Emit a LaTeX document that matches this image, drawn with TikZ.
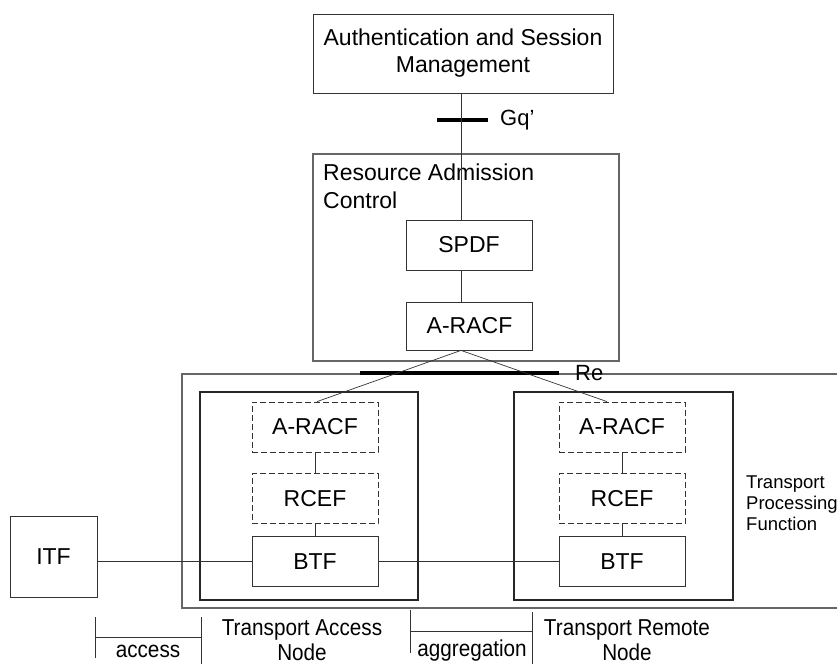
\documentclass[tikz,border=0pt]{standalone}
\usepackage{fontspec}
\setmainfont{Liberation Sans}
\newfontfamily\narrowfont{Liberation Sans}[FakeStretch=0.9]
\usetikzlibrary{positioning}

\begin{document}
\begin{tikzpicture}[x=1pt, y=-1pt,
    funcbox/.style={draw=black!80, line width=0.8pt, inner sep=0pt, minimum width=126pt, minimum height=50pt, align=center, font=\fontsize{23}{27}\selectfont},
    dashbox/.style={funcbox, dash pattern=on 6pt off 3pt},
    holder/.style={draw=black!85, line width=1.1pt, inner sep=0pt},
    iface/.style={line width=4.2pt, black},
    link/.style={draw=black!80, line width=0.7pt},
    tag/.style={inner sep=0pt, anchor=west, font=\fontsize{22}{26}\selectfont},
    dimtext/.style={inner sep=0pt, align=center, font=\narrowfont\fontsize{23}{25}\selectfont}
    ]
        \useasboundingbox (0,0) rectangle (837,664);

        %Nodes
        \node[funcbox, minimum width=300pt, minimum height=79pt]
            (asm)   at (463,53.5)   {Authentication and Session\\Management};
        \node[holder, draw=black!60, minimum width=306pt, minimum height=207pt]
            (rac)   at (466,257.5)  {};
        \node[inner sep=0pt, anchor=north west, align=left, font=\fontsize{23}{28}\selectfont]
            (ractext) at (323,164)  {Resource Admission\\Control};
        \node[funcbox]
            (spdf)  at (469,245)    {SPDF};
        \node[funcbox, minimum height=48pt]
            (aracf) at (469.5,326)  {A-RACF};

        \node[holder, minimum width=218pt, minimum height=208pt]
            (tan)   at (309,496)    {};
        \node[holder, minimum width=219pt, minimum height=208pt]
            (trn)   at (623.5,496)  {};

        \node[dashbox]  (laracf) at (315,427)  {A-RACF};
        \node[dashbox]  (lrcef)  [below=21pt of laracf] {RCEF};
        \node[funcbox]  (lbtf)   [below=12pt of lrcef]  {BTF};
        \node[dashbox]  (raracf) at (622,427)  {A-RACF};
        \node[dashbox]  (rrcef)  [below=21pt of raracf] {RCEF};
        \node[funcbox]  (rbtf)   [below=12pt of rrcef]  {BTF};

        \node[funcbox, minimum width=87pt, minimum height=81pt]
            (itf)   at (53.5,556.5) {ITF};

        \node[inner sep=0pt, anchor=west, align=left, font=\fontsize{18.5}{21}\selectfont]
            (tpf)   at (746,503)    {Transport\\Processing\\Function};

        %Transport processing frame, runs past the right edge
        \draw[draw=black!60, line width=1.4pt] (845,374) -- (182,374) -- (182,608) -- (845,608);

        %Interfaces
        \coordinate (gqx) at (461,0);
        \draw[iface] (437,120) -- (488,120);
        \node[tag] (gq) at (500,120) {Gq'};
        \draw[iface] (360,373) -- (559,373);
        \node[tag] (re) at (575,373) {Re};

        %Lines
        \draw[link] (asm.south -| gqx) -- (spdf.north -| gqx);
        \draw[link] (spdf.south -| gqx) -- (aracf.north -| gqx);
        \draw[link] (aracf.south -| gqx) -- ([xshift=2pt]laracf.north);
        \draw[link] (aracf.south -| gqx) -- ([xshift=-15pt]raracf.north);
        \draw[link] (laracf) -- (lrcef);
        \draw[link] (lrcef) -- (lbtf);
        \draw[link] (raracf) -- (rrcef);
        \draw[link] (rrcef) -- (rbtf);
        \draw[link] (lbtf.west -| itf.east) -- (lbtf.west);
        \draw[link] (lbtf.east) -- (rbtf.west);

        %Spans
        \coordinate (acc1) at (95,617);
        \coordinate (acc2) at (201,617);
        \coordinate (agg1) at (410,610);
        \coordinate (agg2) at (532,612);
        \draw[link] (acc1) -- ++(0,41);
        \draw[link] (acc2) -- ++(0,47);
        \draw[link] (acc1) ++(0,20) -- (acc2 |- 0,637);
        \draw[link] (agg1) -- ++(0,43);
        \draw[link] (agg2) -- ++(0,52);
        \draw[link] (agg1) ++(0,21) -- (agg2 |- 0,631);

        \node[dimtext] (access) at (148,651)   {access};
        \node[dimtext] (aggr)   at (472,651)   {aggregation};
        \node[dimtext] (tanlbl) at (302,640)   {Transport Access\\Node};
        \node[dimtext] (trnlbl) at (627,640)   {Transport Remote\\Node};
    \end{tikzpicture}
\end{document}
